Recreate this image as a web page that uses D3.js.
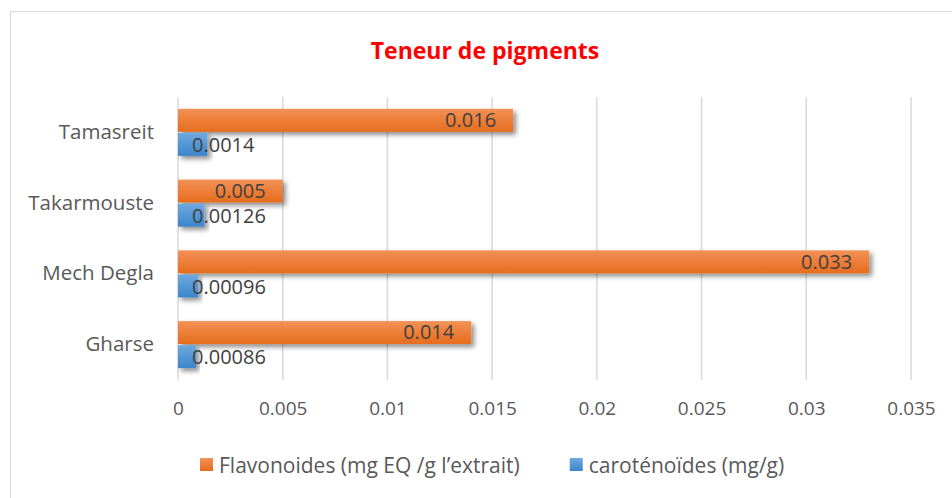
<!DOCTYPE html>
<html>
<head>
<meta charset="utf-8">
<script src="https://cdn.jsdelivr.net/npm/d3@7"></script>
<style>
  body { margin: 0; background: #fff; }
  svg { display: block; font-family: "Open Sans", sans-serif; }
</style>
</head>
<body>
<div id="chart"></div>
<script>
const categories = ["Tamasreit", "Takarmouste", "Mech Degla", "Gharse"]
const flavonoides = [0.016, 0.005, 0.033, 0.014]
const carotenoides = [0.0014, 0.00126, 0.00096, 0.00086]
const flavLabels = ["0.016", "0.005", "0.033", "0.014"]
const carotLabels = ["0.0014", "0.00126", "0.00096", "0.00086"]
const tickValues = [0, 0.005, 0.01, 0.015, 0.02, 0.025, 0.03, 0.035]
const tickLabels = ["0", "0.005", "0.01", "0.015", "0.02", "0.025", "0.03", "0.035"]
const seriesNames = ["Flavonoides (mg EQ /g l\u2019extrait)", "caroténoïdes (mg/g)"]

const width = 952, height = 498
const margin = {top: 97, right: 41, bottom: 118, left: 178}

const svg = d3.select('#chart').append('svg')
    .attr('width', width)
    .attr('height', height)

const defs = svg.append('defs')
const shadow = defs.append('filter').attr('id', 'shadow')
    .attr('x', '-10%').attr('y', '-30%').attr('width', '130%').attr('height', '180%')
shadow.append('feDropShadow')
    .attr('dx', 3).attr('dy', 3).attr('stdDeviation', 2.5)
    .attr('flood-color', '#000').attr('flood-opacity', 0.45)

function grad(id, top, bottom) {
    const g = defs.append('linearGradient').attr('id', id)
        .attr('x1', 0).attr('y1', 0).attr('x2', 0).attr('y2', 1)
    g.append('stop').attr('offset', '0%').attr('stop-color', top)
    g.append('stop').attr('offset', '100%').attr('stop-color', bottom)
}
grad('gOrange', '#F39156', '#E66C1C')
grad('gBlue', '#6FA9DF', '#3C85CB')

// outer border
svg.append('rect')
    .attr('x', 10.5).attr('y', 11.5)
    .attr('width', 960).attr('height', 500)
    .attr('fill', 'none').attr('stroke', '#D9D9D9')

svg.append('text')
    .attr('x', 485).attr('y', 59)
    .attr('text-anchor', 'middle')
    .attr('font-size', '23px').attr('font-weight', 'bold')
    .attr('fill', '#FF0000')
    .text('Teneur de pigments')

const x = d3.scaleLinear()
    .domain([0, 0.035])
    .range([margin.left, width - margin.right])

const y = d3.scaleBand()
    .domain(categories)
    .range([margin.top, height - margin.bottom])
    .paddingInner(0.335)
    .paddingOuter(0.1675)

const ySub = d3.scaleBand()
    .domain([0, 1])
    .range([0, y.bandwidth()])
    .paddingInner(0.05)

// gridlines
svg.append('g')
    .selectAll('line')
    .data(tickValues)
    .join('line')
    .attr('x1', d => x(d)).attr('x2', d => x(d))
    .attr('y1', margin.top).attr('y2', height - margin.bottom)
    .attr('stroke', '#D9D9D9').attr('stroke-width', 1.5)

// x axis labels
const xAxis = svg.append('g')
    .attr('transform', `translate(0, ${height - margin.bottom})`)
    .call(d3.axisBottom(x).tickValues(tickValues)
        .tickFormat((d, i) => tickLabels[i]).tickSize(0).tickPadding(22))
xAxis.select('.domain').remove()
xAxis.selectAll('text')
    .attr('font-size', '19px').attr('fill', '#595959')
    .attr('font-family', '"Open Sans", sans-serif')

// y axis labels
const yAxis = svg.append('g')
    .attr('transform', `translate(${margin.left}, 0)`)
    .call(d3.axisLeft(y).tickSize(0).tickPadding(24))
yAxis.select('.domain').remove()
yAxis.selectAll('text')
    .attr('font-size', '20.5px').attr('fill', '#595959')
    .attr('font-family', '"Open Sans", sans-serif')

const rows = categories.map((c, i) => ({c, f: flavonoides[i], k: carotenoides[i], fl: flavLabels[i], kl: carotLabels[i]}))

const bars = svg.append('g')
bars.selectAll('.flav')
    .data(rows)
    .join('rect')
    .attr('class', 'flav')
    .attr('x', x(0))
    .attr('y', d => y(d.c) + ySub(0))
    .attr('width', d => x(d.f) - x(0))
    .attr('height', ySub.bandwidth())
    .attr('fill', 'url(#gOrange)')
    .attr('filter', 'url(#shadow)')

bars.selectAll('.carot')
    .data(rows)
    .join('rect')
    .attr('class', 'carot')
    .attr('x', x(0))
    .attr('y', d => y(d.c) + ySub(1))
    .attr('width', d => x(d.k) - x(0))
    .attr('height', ySub.bandwidth())
    .attr('fill', 'url(#gBlue)')
    .attr('filter', 'url(#shadow)')

// data labels
const labels = svg.append('g')
    .attr('font-size', '20px').attr('fill', '#404040')
labels.selectAll('.fl')
    .data(rows)
    .join('text')
    .attr('x', d => x(d.f) - 17)
    .attr('y', d => y(d.c) + ySub(0) + ySub.bandwidth() / 2)
    .attr('dy', '0.34em')
    .attr('text-anchor', 'end')
    .text(d => d.fl)
labels.selectAll('.kl')
    .data(rows)
    .join('text')
    .attr('x', x(0) + 14)
    .attr('y', d => y(d.c) + ySub(1) + ySub.bandwidth() / 2)
    .attr('dy', '0.38em')
    .text(d => d.kl)

// legend
const legend = svg.append('g')
let lx = 200
const colors = ['url(#gOrange)', 'url(#gBlue)']
seriesNames.forEach((name, i) => {
    legend.append('rect')
        .attr('x', lx).attr('y', 458)
        .attr('width', 13).attr('height', 13)
        .attr('fill', colors[i])
    const t = legend.append('text')
        .attr('x', lx + 19).attr('y', 465)
        .attr('dy', '0.36em')
        .attr('font-size', '21px').attr('fill', '#595959')
        .text(name)
    lx += 19 + t.node().getComputedTextLength() + 50
})
</script>
</body>
</html>
